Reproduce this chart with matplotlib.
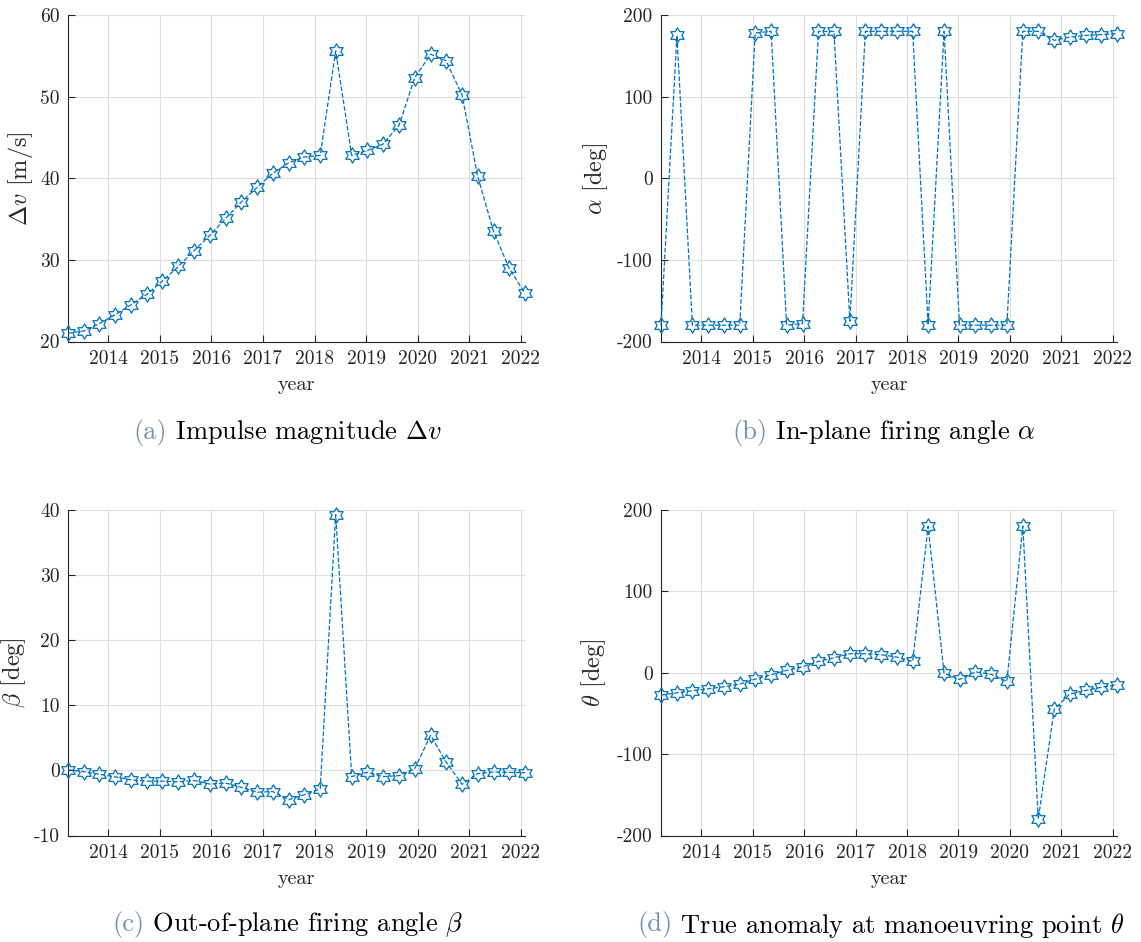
import numpy as np
import matplotlib
matplotlib.use("Agg")
import matplotlib.pyplot as plt
from matplotlib.path import Path

plt.rcParams["font.family"] = "serif"
plt.rcParams["font.serif"] = ["cmr10"]
plt.rcParams["mathtext.fontset"] = "cm"
plt.rcParams["axes.unicode_minus"] = False
plt.rcParams["axes.formatter.use_mathtext"] = False

# Manoeuvre epochs (decimal years)
epochs = [2013.22, 2013.53, 2013.83, 2014.14, 2014.44, 2014.75, 2015.05, 2015.36,
          2015.66, 2015.97, 2016.28, 2016.58, 2016.89, 2017.19, 2017.50, 2017.80,
          2018.11, 2018.41, 2018.72, 2019.02, 2019.33, 2019.64, 2019.94, 2020.25,
          2020.55, 2020.86, 2021.16, 2021.47, 2021.77, 2022.08]

# Impulse magnitude [m/s]
delta_v = [21.0, 21.3, 22.2, 23.3, 24.5, 25.8, 27.4, 29.2, 31.1, 33.0,
           35.1, 37.1, 38.9, 40.6, 41.9, 42.6, 42.8, 55.6, 42.8, 43.4,
           44.2, 46.5, 52.3, 55.2, 54.4, 50.2, 40.3, 33.5, 29.0, 25.9]

# In-plane firing angle [deg]
alpha = [-180, 175, -180, -180, -180, -180, 178, 180, -180, -178,
         180, 180, -175, 180, 180, 180, 180, -180, 180, -180,
         -180, -180, -180, 180, 180, 169, 173, 175, 176, 177]

# Out-of-plane firing angle [deg]
beta = [0.1, -0.2, -0.6, -1.0, -1.45, -1.65, -1.65, -1.75, -1.55, -2.1,
        -1.95, -2.6, -3.35, -3.25, -4.5, -3.75, -2.8, 39.3, -0.95, -0.3,
        -0.95, -0.8, 0.25, 5.4, 1.3, -2.15, -0.5, -0.25, -0.3, -0.35]

# True anomaly at manoeuvring point [deg]
theta = [-27.5, -24.6, -22.1, -19.7, -17.2, -13.9, -7.8, -2.5, 2.9, 7.4,
         13.9, 18.4, 23.4, 23.4, 22.1, 19.3, 13.9, 179.9, -0.8, -8.2,
         1.2, -2.0, -10.7, 180.3, -179.9, -45.1, -26.2, -21.7, -18.0, -14.8]

year_ticks = [2014, 2015, 2016, 2017, 2018, 2019, 2020, 2021, 2022]

# six-pointed star marker
pts = []
for k in range(12):
    ang = np.pi / 2 + k * np.pi / 6
    r = 1.0 if k % 2 == 0 else 1 / np.sqrt(3)
    pts.append((r * np.cos(ang), r * np.sin(ang)))
pts.append(pts[0])
hexagram = Path(pts, closed=True)

BLUE = "#0072BD"
AXC = "#262626"
W, H = 1141, 942

fig = plt.figure(figsize=(W / 100, H / 100), dpi=100)


def px_axes(x0, y0, x1, y1):
    return fig.add_axes([x0 / W, 1 - y1 / H, (x1 - x0) / W, (y1 - y0) / H])


panels = [
    (px_axes(68, 15, 525, 341.5), delta_v, (20, 60), [20, 30, 40, 50, 60], r"$\Delta v$ [m/s]", 33),
    (px_axes(661, 15, 1117, 341.5), alpha, (-200, 200), [-200, -100, 0, 100, 200], r"$\alpha$ [deg]", 51),
    (px_axes(68, 510, 525, 835.5), beta, (-10, 40), [-10, 0, 10, 20, 30, 40], r"$\beta$ [deg]", 40),
    (px_axes(661, 510, 1117, 835.5), theta, (-200, 200), [-200, -100, 0, 100, 200], r"$\theta$ [deg]", 53),
]

for ax, vals, ylim, yt, ylab, lab_off in panels:
    ax.plot(epochs, vals, linestyle="--", color=BLUE, linewidth=0.9,
            marker=hexagram, markersize=11, markerfacecolor="none",
            markeredgecolor=BLUE, markeredgewidth=0.9, clip_on=False, zorder=3)
    ax.set_xlim(epochs[0], epochs[-1])
    ax.set_ylim(*ylim)
    ax.set_xticks(year_ticks)
    ax.set_xticklabels([str(y) for y in year_ticks])
    ax.set_yticks(yt)
    ax.set_yticklabels([str(v) for v in yt])
    ax.grid(True, color="#dedede", linewidth=0.8)
    ax.set_axisbelow(True)
    for s in ("top", "right"):
        ax.spines[s].set_visible(False)
    for s in ("left", "bottom"):
        ax.spines[s].set_color(AXC)
        ax.spines[s].set_linewidth(0.8)
    ax.tick_params(direction="in", length=5, width=0.8, colors=AXC,
                   labelsize=14, pad=6)
    ax.set_xlabel("year", fontsize=14.5, color=AXC, labelpad=6)
    ax.set_ylabel(ylab, fontsize=17.5, color=AXC)
    # y label's near edge sits a fixed pixel distance left of the axis
    axw = ax.get_position().width * W
    ax.yaxis.set_label_coords(-lab_off / axw, 0.5)

captions = [
    (133, 432, "(a)", r" Impulse magnitude $\Delta v$"),
    (732, 432, "(b)", r" In-plane firing angle $\alpha$"),
    (112, 925, "(c)", r" Out-of-plane firing angle $\beta$"),
    (637, 925, "(d)", r" True anomaly at manoeuvring point $\theta$"),
]
for x, y, tag, body in captions:
    t = fig.text(x / W, 1 - y / H, tag, fontsize=19, color="#7393b3", va="center", ha="left")
    fig.canvas.draw()
    bb = t.get_window_extent()
    fig.text(bb.x1 / W, 1 - y / H, body, fontsize=19, color="black", va="center", ha="left")

fig.savefig("out.png", dpi=100)
